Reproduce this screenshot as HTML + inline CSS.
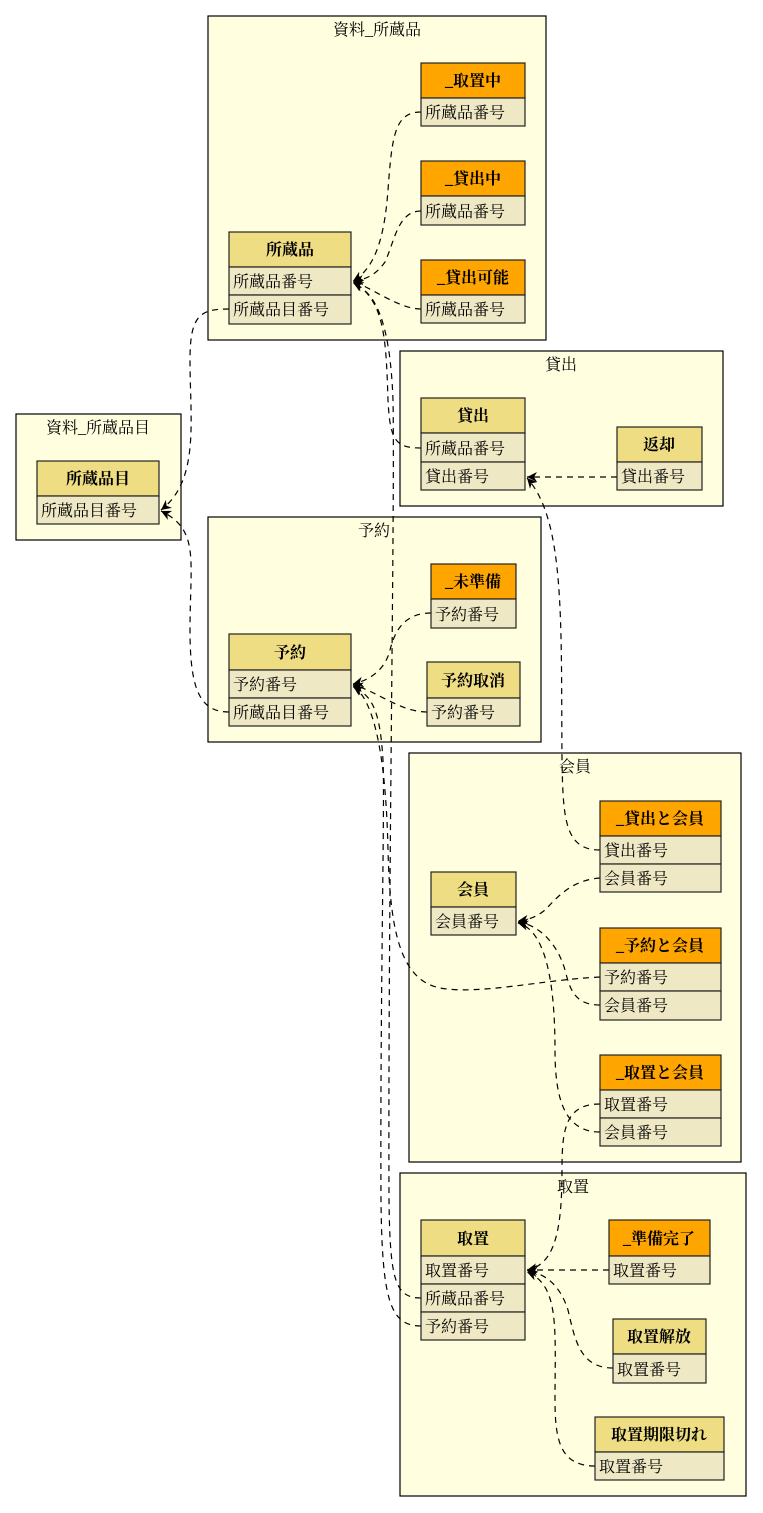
<!DOCTYPE html>
<html><head><meta charset="utf-8"><style>
html,body{margin:0;padding:0;background:#fff;}
svg{display:block;}
text{font-family:"Liberation Serif","Noto Serif CJK SC","Noto Serif CJK JP",serif;fill:#000;}
.cl{fill:#ffffe0;stroke:#000;stroke-width:1.2;}
.h{fill:#eedd82;stroke:#222;stroke-width:1.2;}
.o{fill:#ffa500;stroke:#222;stroke-width:1.2;}
.r{fill:#eee8c5;stroke:#222;stroke-width:1.2;}
.e{fill:none;stroke:#000;stroke-width:1.2;stroke-dasharray:6,5;}
.t{font-size:16px;}
.b{font-size:16px;font-weight:bold;}
</style></head><body>
<svg width="763" height="1513" viewBox="0 0 763 1513" xmlns="http://www.w3.org/2000/svg">
<defs><marker id="a" viewBox="0 0 10 10" refX="10" refY="5" markerWidth="10" markerHeight="10" markerUnits="userSpaceOnUse" orient="auto"><path d="M0,0 L10,5 L0,10 L3,5 z" fill="#000"/></marker></defs>

<!-- clusters -->
<rect class="cl" x="208" y="16" width="338" height="324"/>
<text class="t" x="377" y="35" text-anchor="middle">資料_所蔵品</text>
<rect class="cl" x="400" y="351" width="323" height="155"/>
<text class="t" x="561" y="370" text-anchor="middle">貸出</text>
<rect class="cl" x="16" y="414" width="165" height="126"/>
<text class="t" x="98" y="433" text-anchor="middle">資料_所蔵品目</text>
<rect class="cl" x="208" y="517" width="333" height="225"/>
<text class="t" x="374" y="536" text-anchor="middle">予約</text>
<rect class="cl" x="409" y="753" width="332" height="409"/>
<text class="t" x="575" y="772" text-anchor="middle">会員</text>
<rect class="cl" x="400" y="1173" width="346" height="323"/>
<text class="t" x="573" y="1192" text-anchor="middle">取置</text>

<!-- edges -->
<g class="e" marker-end="url(#a)">
<path d="M421,112 C395,112 392,135 388,190 C384,245 372,270 353,281"/>
<path d="M421,211 C398,211 395,240 385,262 C376,275 365,280 353,281"/>
<path d="M421,309 C400,309 375,290 353,281"/>
<path d="M421,448 C395,448 390,440 388,400 C386,340 385,300 353,282"/>
<path d="M421,1298 C395,1298 390,1280 389,1200 C388,900 395,500 393,400 C390,320 375,292 353,283"/>
<path d="M229,309 C200,309 190,315 190,360 C190,420 200,480 161,510"/>
<path d="M229,712 C200,712 190,690 190,630 C190,560 200,530 161,511"/>
<path d="M617,477 L527,477"/>
<path d="M600,850 C565,850 563,820 562,760 C561,620 565,520 527,478"/>
<path d="M431,613 C405,613 395,630 390,650 C385,670 370,680 353,684"/>
<path d="M427,712 C400,712 375,690 353,685"/>
<path d="M600,977 C540,980 480,995 440,988 C400,980 390,930 388,850 C386,760 375,700 353,686"/>
<path d="M421,1326 C390,1326 382,1300 381,1200 C380,1000 385,800 383,760 C380,710 372,695 353,687"/>
<path d="M600,878 C570,880 555,900 545,910 C535,918 527,920 518,921"/>
<path d="M600,1005 C575,1005 570,990 565,970 C558,945 540,925 518,922"/>
<path d="M600,1132 C565,1132 555,1100 555,1050 C555,980 545,930 518,923"/>
<path d="M600,1104 C565,1104 562,1130 562,1170 C562,1230 555,1265 527,1270"/>
<path d="M609,1270 L527,1270"/>
<path d="M613,1368 C580,1368 575,1340 568,1310 C560,1285 545,1273 527,1271"/>
<path d="M595,1466 C560,1466 555,1440 555,1400 C555,1330 560,1285 527,1272"/>
</g>

<!-- tables -->
<g>
<rect class="o" x="421" y="63" width="104" height="35"/><text class="b" x="473" y="86" text-anchor="middle">_取置中</text>
<rect class="r" x="421" y="98" width="104" height="28"/><text class="t" x="425" y="118">所蔵品番号</text>

<rect class="o" x="421" y="161" width="104" height="35"/><text class="b" x="473" y="184" text-anchor="middle">_貸出中</text>
<rect class="r" x="421" y="196" width="104" height="29"/><text class="t" x="425" y="217">所蔵品番号</text>

<rect class="o" x="421" y="260" width="104" height="35"/><text class="b" x="473" y="283" text-anchor="middle">_貸出可能</text>
<rect class="r" x="421" y="295" width="104" height="28"/><text class="t" x="425" y="315">所蔵品番号</text>

<rect class="h" x="229" y="232" width="122" height="35"/><text class="b" x="290" y="255" text-anchor="middle">所蔵品</text>
<rect class="r" x="229" y="267" width="122" height="28"/><text class="t" x="233" y="287">所蔵品番号</text>
<rect class="r" x="229" y="295" width="122" height="29"/><text class="t" x="233" y="315">所蔵品目番号</text>

<rect class="h" x="421" y="398" width="104" height="35"/><text class="b" x="473" y="421" text-anchor="middle">貸出</text>
<rect class="r" x="421" y="433" width="104" height="29"/><text class="t" x="425" y="454">所蔵品番号</text>
<rect class="r" x="421" y="462" width="104" height="28"/><text class="t" x="425" y="482">貸出番号</text>

<rect class="h" x="617" y="427" width="85" height="35"/><text class="b" x="659" y="450" text-anchor="middle">返却</text>
<rect class="r" x="617" y="462" width="85" height="28"/><text class="t" x="621" y="482">貸出番号</text>

<rect class="h" x="37" y="461" width="122" height="35"/><text class="b" x="98" y="484" text-anchor="middle">所蔵品目</text>
<rect class="r" x="37" y="496" width="122" height="28"/><text class="t" x="41" y="516">所蔵品目番号</text>

<rect class="o" x="431" y="564" width="85" height="35"/><text class="b" x="473" y="587" text-anchor="middle">_未準備</text>
<rect class="r" x="431" y="599" width="85" height="29"/><text class="t" x="435" y="620">予約番号</text>

<rect class="h" x="427" y="662" width="93" height="36"/><text class="b" x="473" y="686" text-anchor="middle">予約取消</text>
<rect class="r" x="427" y="698" width="93" height="28"/><text class="t" x="431" y="718">予約番号</text>

<rect class="h" x="229" y="634" width="122" height="36"/><text class="b" x="290" y="658" text-anchor="middle">予約</text>
<rect class="r" x="229" y="670" width="122" height="28"/><text class="t" x="233" y="690">予約番号</text>
<rect class="r" x="229" y="698" width="122" height="28"/><text class="t" x="233" y="718">所蔵品目番号</text>

<rect class="h" x="431" y="872" width="85" height="35"/><text class="b" x="473" y="895" text-anchor="middle">会員</text>
<rect class="r" x="431" y="907" width="85" height="28"/><text class="t" x="435" y="927">会員番号</text>

<rect class="o" x="600" y="801" width="121" height="35"/><text class="b" x="660" y="824" text-anchor="middle">_貸出と会員</text>
<rect class="r" x="600" y="836" width="121" height="28"/><text class="t" x="604" y="856">貸出番号</text>
<rect class="r" x="600" y="864" width="121" height="28"/><text class="t" x="604" y="884">会員番号</text>

<rect class="o" x="600" y="928" width="121" height="35"/><text class="b" x="660" y="951" text-anchor="middle">_予約と会員</text>
<rect class="r" x="600" y="963" width="121" height="28"/><text class="t" x="604" y="983">予約番号</text>
<rect class="r" x="600" y="991" width="121" height="29"/><text class="t" x="604" y="1011">会員番号</text>

<rect class="o" x="600" y="1055" width="121" height="35"/><text class="b" x="660" y="1078" text-anchor="middle">_取置と会員</text>
<rect class="r" x="600" y="1090" width="121" height="28"/><text class="t" x="604" y="1110">取置番号</text>
<rect class="r" x="600" y="1118" width="121" height="28"/><text class="t" x="604" y="1138">会員番号</text>

<rect class="h" x="421" y="1220" width="104" height="36"/><text class="b" x="473" y="1244" text-anchor="middle">取置</text>
<rect class="r" x="421" y="1256" width="104" height="28"/><text class="t" x="425" y="1276">取置番号</text>
<rect class="r" x="421" y="1284" width="104" height="28"/><text class="t" x="425" y="1304">所蔵品番号</text>
<rect class="r" x="421" y="1312" width="104" height="28"/><text class="t" x="425" y="1332">予約番号</text>

<rect class="o" x="609" y="1220" width="101" height="36"/><text class="b" x="659" y="1244" text-anchor="middle">_準備完了</text>
<rect class="r" x="609" y="1256" width="101" height="28"/><text class="t" x="613" y="1276">取置番号</text>

<rect class="h" x="613" y="1319" width="93" height="35"/><text class="b" x="659" y="1342" text-anchor="middle">取置解放</text>
<rect class="r" x="613" y="1354" width="93" height="29"/><text class="t" x="617" y="1375">取置番号</text>

<rect class="h" x="595" y="1417" width="129" height="35"/><text class="b" x="659" y="1440" text-anchor="middle">取置期限切れ</text>
<rect class="r" x="595" y="1452" width="129" height="28"/><text class="t" x="599" y="1472">取置番号</text>
</g>
</svg>
</body></html>
